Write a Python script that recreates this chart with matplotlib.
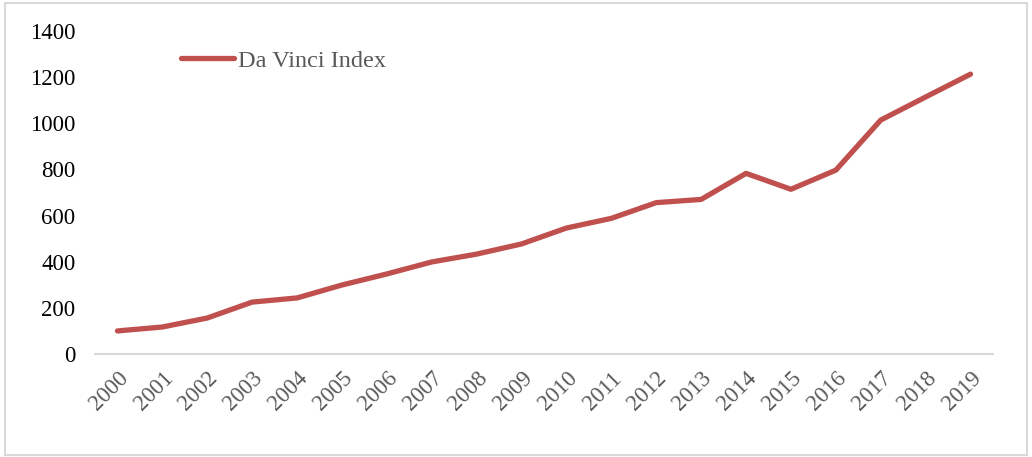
import matplotlib.pyplot as plt
from matplotlib.patches import Rectangle

# Da Vinci Index by year
years = [str(y) for y in range(2000, 2020)]
index_values = [100, 117, 156, 225, 243, 299, 347, 399, 433, 477,
                546, 588, 656, 670, 783, 714, 797, 1014, 1114, 1213]
y_ticks = [0, 200, 400, 600, 800, 1000, 1200, 1400]

plt.rcParams["font.family"] = ["Liberation Serif", "DejaVu Serif"]

fig = plt.figure(figsize=(10.32, 4.57), dpi=100)
ax = fig.add_axes([95 / 1032, 1 - 354 / 457, 898 / 1032, 323 / 457])

x = range(len(years))
ax.plot(x, index_values, color="#C0504D", linewidth=3.8,
        solid_capstyle="round", solid_joinstyle="round", label="Da Vinci Index")

ax.set_xlim(-0.5, len(years) - 0.5)
ax.set_ylim(0, 1400)
ax.set_yticks(y_ticks)
ax.set_yticklabels([str(t) for t in y_ticks], fontsize=16.5, color="black")
ax.set_xticks(list(x))
ax.set_xticklabels(years, rotation=45, ha="right", rotation_mode="anchor",
                   fontsize=16.5, color="#595959")
ax.tick_params(axis="both", length=0)
ax.tick_params(axis="y", pad=14)
ax.tick_params(axis="x", pad=10)

for side in ["top", "right", "left"]:
    ax.spines[side].set_visible(False)
ax.spines["bottom"].set_color("#D9D9D9")
ax.spines["bottom"].set_linewidth(1.5)

leg = ax.legend(loc="upper left", bbox_to_anchor=(0.071, 1.009), frameon=False,
                fontsize=17.5, handlelength=2.2, handletextpad=0.15)
for t in leg.get_texts():
    t.set_color("#595959")

# light outer border
fig.patches.append(Rectangle((5 / 1032, 2 / 457), 1022 / 1032, 452 / 457,
                             transform=fig.transFigure, fill=False,
                             edgecolor="#D9D9D9", linewidth=1.5))

fig.savefig("out.png", dpi=100)
